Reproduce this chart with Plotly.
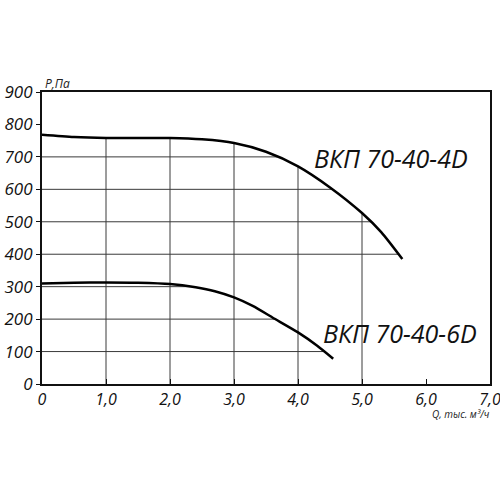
import numpy as np
import plotly.graph_objects as go

# Кривые вентиляторов ВКП 70-40 (Q, тыс. м3/ч -> P, Па)
q_4d = [0, 0.5, 1.0, 1.5, 2.0, 2.5, 3.0, 3.5, 4.0, 4.5, 5.0, 5.3, 5.63]
p_4d = [768, 761, 758, 758, 758, 754, 743, 716, 671, 606, 527, 468, 385]

q_6d = [0, 0.5, 1.0, 1.5, 2.0, 2.4, 2.7, 3.0, 3.3, 3.6, 4.0, 4.3, 4.55]
p_6d = [310, 312, 313, 312, 308, 298, 286, 267, 240, 205, 159, 118, 78]

x_ticks = [0, 1, 2, 3, 4, 5, 6, 7]
x_labels = ["0", "1,0", "2,0", "3,0", "4,0", "5,0", "6,0", "7,0"]
y_ticks = [0, 100, 200, 300, 400, 500, 600, 700, 800, 900]

name_4d = "ВКП 70-40-4D"
name_6d = "ВКП 70-40-6D"

FONT = "Open Sans"
GRID = "#3a3a3a"


def crossing(level, q, p):
    # где кривая (на падающем участке) пересекает уровень level
    i = int(np.argmax(p))
    qq = np.array(q[i:])[::-1]
    pp = np.array(p[i:])[::-1]
    return float(np.interp(level, pp, qq))


fig = go.Figure()

# сетка только под кривыми
for yv in y_ticks[1:-1]:
    if yv >= 400:
        if yv > max(p_4d):
            continue
        xe = crossing(yv, q_4d, p_4d)
    else:
        xe = crossing(yv, q_6d, p_6d)
    fig.add_trace(go.Scatter(x=[0, xe], y=[yv, yv], mode="lines",
                             line=dict(color=GRID, width=1), hoverinfo="skip"))

for xv in x_ticks[1:-1]:
    if xv > q_4d[-1]:
        continue
    ye = float(np.interp(xv, q_4d, p_4d))
    fig.add_trace(go.Scatter(x=[xv, xv], y=[0, ye], mode="lines",
                             line=dict(color=GRID, width=1), hoverinfo="skip"))

for q, p in [(q_4d, p_4d), (q_6d, p_6d)]:
    fig.add_trace(go.Scatter(x=q, y=p, mode="lines",
                             line=dict(color="black", width=2.5, shape="spline", smoothing=0.7),
                             hoverinfo="skip"))

fig.add_annotation(x=4.22, y=697, text=name_4d, showarrow=False, xanchor="left",
                   font=dict(family=FONT, size=25, color="#111", style="italic"))
fig.add_annotation(x=4.36, y=157, text=name_6d, showarrow=False, xanchor="left",
                   font=dict(family=FONT, size=25, color="#111", style="italic"))

fig.add_annotation(x=0, y=900, text="Р,Па", showarrow=False, xanchor="left", yanchor="bottom",
                   xshift=1, yshift=-2,
                   font=dict(family=FONT, size=12, color="#222", style="italic"))
fig.add_annotation(x=7, y=0, text="Q, тыс. м³/ч", showarrow=False, xanchor="right", yanchor="top",
                   xshift=2, yshift=-21,
                   font=dict(family=FONT, size=10, color="#222", style="italic"))

fig.update_layout(
    width=500, height=500,
    margin=dict(l=42, r=10, t=92, b=116),
    paper_bgcolor="white", plot_bgcolor="white",
    showlegend=False,
    font=dict(family=FONT, color="#111"),
    xaxis=dict(range=[0, 7], tickvals=x_ticks, ticktext=x_labels,
               showgrid=False, zeroline=False, automargin=False,
               ticklabeloverflow="allow",
               showline=True, linecolor="#111", linewidth=2, mirror=True,
               ticks="inside", ticklen=5, tickcolor="#111",
               tickfont=dict(family=FONT, size=16, style="italic")),
    yaxis=dict(range=[0, 900], tickvals=y_ticks,
               showgrid=False, zeroline=False, automargin=False,
               ticklabeloverflow="allow",
               showline=True, linecolor="#111", linewidth=2, mirror=True,
               ticks="outside", ticklen=4, tickcolor="#111",
               tickfont=dict(family=FONT, size=17, style="italic")),
)

# страница без отступов, чтобы график стоял в углу окна
fig.write_html("out.html", config={"displayModeBar": False},
               post_script="document.body.style.margin='0';")
